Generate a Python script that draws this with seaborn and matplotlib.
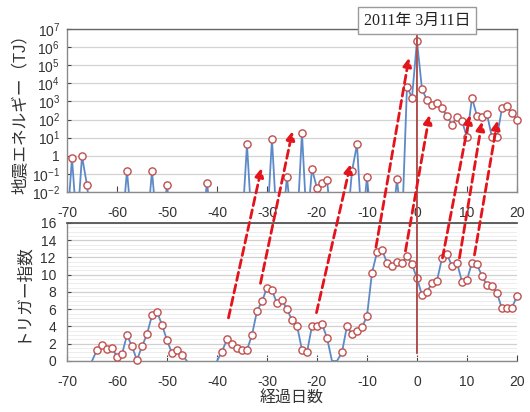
import numpy as np
import pandas as pd
import matplotlib
matplotlib.use("Agg")
import matplotlib.pyplot as plt
from matplotlib.patches import ConnectionPatch
from matplotlib.transforms import blended_transform_factory
from matplotlib.ticker import FixedLocator, FuncFormatter, MultipleLocator
import seaborn as sns

# ---------------- data ----------------
days = list(range(-70, 21))

energy_tj = [
    0, 0.77, 0, 0.95, 0.024, 0, 0, 0, 0, 0,            # -70..-61
    0, 0, 0.146, 0, 0, 0, 0, 0.14, 0, 0,               # -60..-51
    0.024, 0, 0, 0, 0, 0, 0, 0, 0.033, 0,              # -50..-41
    0, 0, 0, 0, 0, 0, 4.2, 0, 0, 0,                    # -40..-31
    0, 8.5, 0, 0, 0.065, 0, 0, 18, 0, 0.19,            # -30..-21
    0.016, 0.032, 0.047, 0, 0, 0, 0, 0.14, 4.2, 0,     # -20..-11
    0.065, 0, 0, 0, 0, 0, 0.049, 0, 6600, 1600,        # -10..-1
    2.2e6, 4800, 1200, 650, 800, 420, 160, 50, 145, 83,  # 0..9
    10.5, 1600, 160, 145, 200, 10.5, 11, 420, 560, 220, 100,  # 10..20
]

trigger_index = [
    0, 0, 0, 0, 0, 0, 1.3, 1.9, 1.4, 1.5,              # -70..-61
    0.5, 0.8, 3.0, 1.7, 0.1, 1.7, 3.1, 5.3, 5.7, 4.2,  # -60..-51
    2.4, 0.9, 1.3, 0.7, 0, 0, 0, 0, 0, 0,              # -50..-41
    0, 1.1, 2.5, 2.0, 1.5, 1.3, 1.3, 3.0, 5.8, 6.9,    # -40..-31
    8.5, 8.2, 6.7, 7.1, 6.0, 4.75, 4.1, 1.3, 1.0, 4.05,  # -30..-21
    4.05, 4.3, 2.7, 0, 0, 1.0, 4.05, 3.1, 3.5, 3.9,    # -20..-11
    5.2, 10.2, 12.6, 12.9, 11.4, 11.0, 11.5, 11.4, 12.2, 11.2,  # -10..-1
    9.6, 7.65, 8.05, 9.0, 9.3, 11.9, 12.4, 11.0, 11.4, 9.2,     # 0..9
    9.4, 11.4, 11.2, 9.85, 8.8, 8.7, 7.85, 6.1, 6.2, 6.2, 7.5,  # 10..20
]

x_ticks = [-70, -60, -50, -40, -30, -20, -10, 0, 10, 20]
energy_decades = [-2, -1, 0, 1, 2, 3, 4, 5, 6, 7]
trigger_ticks = [0, 2, 4, 6, 8, 10, 12, 14, 16]

# dashed arrows: (start day, start trigger index) -> (end day, end energy)
arrow_starts = [(-37.7, 5.0), (-31.3, 9.0), (-20.1, 5.6), (-8.2, 13.2),
                (-2.3, 12.75), (5.1, 11.95), (8.5, 11.95), (11.5, 12.3)]
arrow_ends = [(-31.1, 0.21), (-24.9, 23), (-13.3, 0.34), (-1.6, 2.6e5),
              (2.5, 178), (10.6, 178), (13.0, 76), (16.1, 87)]

event_label = "2011年 3月11日"
ylabel_top = "地震エネルギー（TJ）"
ylabel_bottom = "トリガー指数"
xlabel = "経過日数"

# ---------------- style ----------------
sns.set_style("white")
plt.rcParams["font.family"] = ["Liberation Sans", "Noto Sans CJK JP", "DejaVu Sans"]
plt.rcParams["mathtext.fontset"] = "custom"
plt.rcParams["mathtext.rm"] = "Liberation Sans"
plt.rcParams["mathtext.it"] = "Liberation Sans:italic"
plt.rcParams["mathtext.bf"] = "Liberation Sans:bold"

LINE_C = "#5d8ac7"
MARK_EC = "#c0504d"
ARROW_C = "#e3141b"
VLINE_C = "#b0504e"
TXT_C = "#333333"

df = pd.DataFrame({"day": days, "energy": energy_tj, "trigger": trigger_index})
floor = 1e-4
df["energy_plot"] = df["energy"].where(df["energy"] > 0, floor)

# bottom panel: skip runs of zeros lying on the baseline (keep run ends)
tz = df["trigger"] > 0
keep = tz | tz.shift(1, fill_value=False) | tz.shift(-1, fill_value=False)
df["seg"] = (~keep).cumsum()
df_trig = df[keep]

fig = plt.figure(figsize=(5.30, 4.12), dpi=100)
ax1 = fig.add_axes([0.1264, 0.534, 0.849, 0.3956])
ax2 = fig.add_axes([0.1264, 0.1238, 0.849, 0.335])

# ---- top panel ----
sns.lineplot(data=df, x="day", y="energy_plot", ax=ax1, color=LINE_C, lw=1.3,
             estimator=None, sort=True, zorder=2)
sns.scatterplot(data=df[df["energy"] > 0], x="day", y="energy", ax=ax1,
                marker="o", s=27, facecolor="white", edgecolor=MARK_EC,
                linewidth=1.0, zorder=3, clip_on=False)
ax1.set_yscale("log")
ax1.set_ylim(1e-2, 1e7)
ax1.set_xlim(-70, 20)
ax1.yaxis.set_major_locator(FixedLocator([10.0 ** d for d in energy_decades]))
ax1.yaxis.set_minor_locator(FixedLocator([]))


def log_fmt(v, pos):
    n = int(round(np.log10(v)))
    return "1" if n == 0 else r"$10^{%d}$" % n


ax1.yaxis.set_major_formatter(FuncFormatter(log_fmt))
ax1.set_xticks(x_ticks)
ax1.set_xticklabels([str(t) for t in x_ticks])
ax1.grid(axis="y", which="major", color="#d4d4d4", lw=0.9)
ax1.grid(axis="x", visible=False)
ax1.set_xlabel("")
ax1.set_ylabel(ylabel_top, fontsize=12, color=TXT_C, labelpad=2)
for s in ["left", "right", "bottom", "top"]:
    ax1.spines[s].set_visible(True)
    ax1.spines[s].set_color("#8a8a8a")
    ax1.spines[s].set_linewidth(1.0)
ax1.spines["top"].set_color("#666666")
ax1.tick_params(axis="x", direction="in", length=4, color="#444444",
                labelsize=10, pad=10, labelcolor=TXT_C, bottom=True)
ax1.tick_params(axis="y", direction="in", length=3, color="#444444",
                labelsize=10, pad=5, labelcolor=TXT_C, left=True)

# ---- bottom panel ----
sns.lineplot(data=df_trig, x="day", y="trigger", units="seg", ax=ax2,
             color=LINE_C, lw=1.3, estimator=None, sort=True, zorder=2)
sns.scatterplot(data=df[df["trigger"] > 0], x="day", y="trigger", ax=ax2,
                marker="o", s=27, facecolor="white", edgecolor=MARK_EC,
                linewidth=1.0, zorder=3, clip_on=False)
ax2.set_xlim(-70, 20)
ax2.set_ylim(0, 16)
ax2.set_yticks(trigger_ticks)
ax2.yaxis.set_minor_locator(MultipleLocator(0.5))
ax2.set_xticks(x_ticks)
ax2.set_xticklabels([str(t) for t in x_ticks])
ax2.grid(axis="y", which="major", color="#d0d0d0", lw=0.9)
ax2.grid(axis="y", which="minor", color="#ededed", lw=0.7)
ax2.grid(axis="x", visible=False)
ax2.set_xlabel(xlabel, fontsize=11.5, color=TXT_C, labelpad=1)
ax2.set_ylabel(ylabel_bottom, fontsize=12, color=TXT_C, labelpad=8)
for s in ["left", "bottom", "top"]:
    ax2.spines[s].set_visible(True)
    ax2.spines[s].set_color("#8a8a8a")
    ax2.spines[s].set_linewidth(1.0)
ax2.spines["top"].set_color("#555555")
ax2.spines["top"].set_linewidth(1.3)
ax2.spines["right"].set_visible(False)
ax2.tick_params(axis="x", direction="in", length=4, color="#444444",
                labelsize=10, pad=10, labelcolor=TXT_C, bottom=True)
ax2.tick_params(axis="y", which="major", direction="in", length=3,
                color="#444444", labelsize=10, pad=8, labelcolor=TXT_C, left=True)
ax2.tick_params(axis="y", which="minor", length=0)

# ---- event vertical line spanning both panels ----
vline = ConnectionPatch(xyA=(0, 1.04), coordsA=ax1.get_xaxis_transform(),
                        xyB=(0, 0.9), coordsB=ax2.transData,
                        color=VLINE_C, lw=1.4, zorder=4)
fig.add_artist(vline)

fig.text(0, 1.05, event_label,
         transform=blended_transform_factory(ax1.transData, ax1.transAxes),
         ha="center", va="center", fontsize=11.5, color="#222222",
         family=["Liberation Serif", "Noto Sans CJK JP"], zorder=10,
         bbox=dict(boxstyle="square,pad=0.35", fc="white", ec="#9a9a9a", lw=1.0))

# ---- dashed red arrows from trigger index to energy ----
for (sx, sy), (ex, ey) in zip(arrow_starts, arrow_ends):
    con = ConnectionPatch(xyA=(sx, sy), coordsA=ax2.transData,
                          xyB=(ex, ey), coordsB=ax1.transData,
                          arrowstyle="-|>,head_length=0.5,head_width=0.25",
                          mutation_scale=10, color=ARROW_C, lw=2.0,
                          linestyle=(0, (3, 1.6)), zorder=6,
                          shrinkA=0, shrinkB=0)
    fig.add_artist(con)

fig.savefig("out.png", dpi=100)
